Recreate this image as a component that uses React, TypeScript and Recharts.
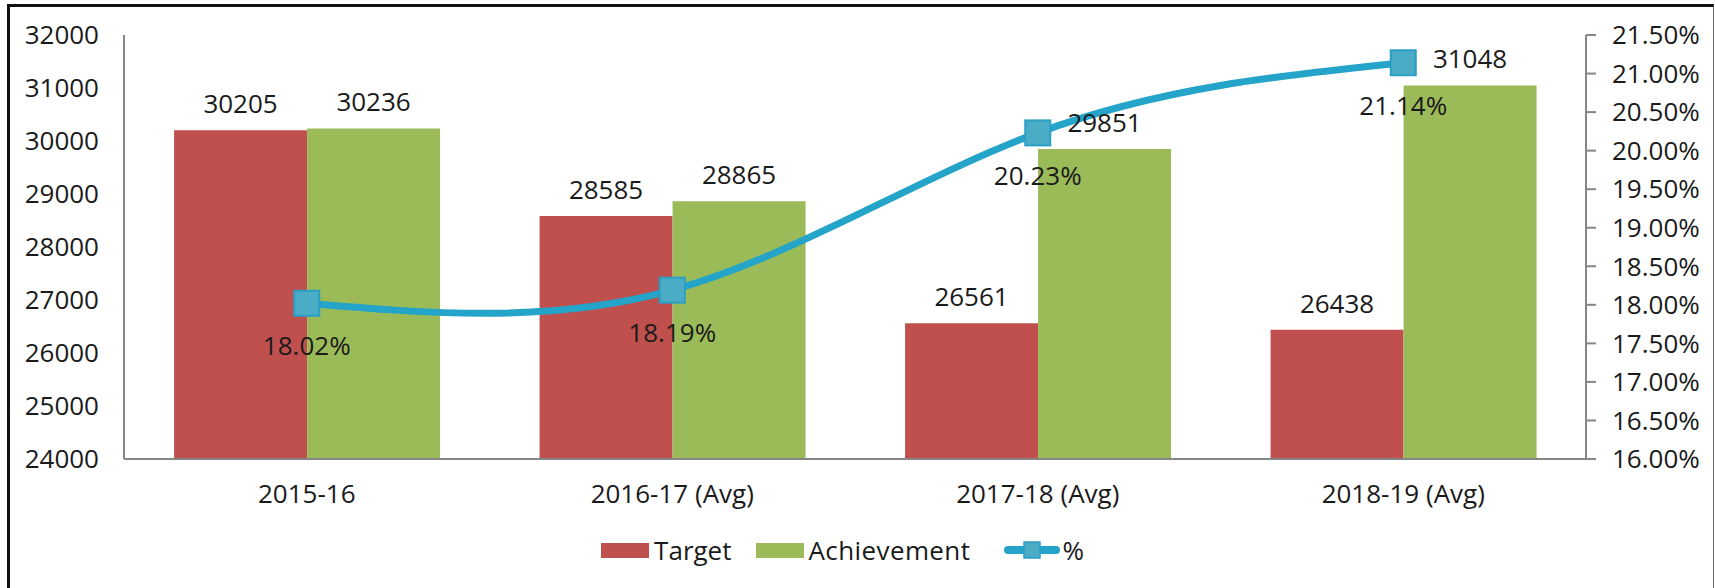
import React from 'react'
import {
  ComposedChart, Bar, Line, XAxis, YAxis, Legend, LabelList,
} from 'recharts'

const categories = ['2015-16', '2016-17 (Avg)', '2017-18 (Avg)', '2018-19 (Avg)']
const target = [30205, 28585, 26561, 26438]
const achievement = [30236, 28865, 29851, 31048]
const percent = [18.02, 18.19, 20.23, 21.14]

const leftTicks = [24000, 25000, 26000, 27000, 28000, 29000, 30000, 31000, 32000]
const rightTicks = [16, 16.5, 17, 17.5, 18, 18.5, 19, 19.5, 20, 20.5, 21, 21.5]

const FONT = '"Open Sans", "Liberation Sans", sans-serif'
const TEXT = '#1a1a1a'
const AXIS = '#868686'
const RED = '#C0504D'
const GREEN = '#9BBB59'
const LINE = '#24A4C8'
const MARKER = '#4BACC6'

const data = categories.map((name, i) => ({
  name,
  target: target[i],
  achievement: achievement[i],
  pct: percent[i],
}))

// square marker like the Excel original
const SquareDot = (props: any) => {
  const { cx, cy, index } = props
  if (cx == null || cy == null) return <g key={index} />
  return (
    <rect
      key={index}
      x={cx - 12.5}
      y={cy - 12.5}
      width={25}
      height={25}
      fill={MARKER}
      stroke="#2A9FC5"
      strokeWidth={2}
    />
  )
}

const PctLabel = (props: any) => {
  const { x, y, value } = props
  return (
    <text x={x} y={y + 52} textAnchor="middle" fontSize={26} fontFamily={FONT} fill={TEXT}>
      {`${Number(value).toFixed(2)}%`}
    </text>
  )
}

const LegendContent = () => (
  <div
    style={{
      display: 'flex', justifyContent: 'center', alignItems: 'center',
      height: 40, paddingRight: 30, fontSize: 26, fontFamily: FONT, color: TEXT,
    }}
  >
    <span style={{ width: 48, height: 15, background: RED, display: 'inline-block' }} />
    <span style={{ marginLeft: 5 }}>Target</span>
    <span style={{ width: 48, height: 15, background: GREEN, display: 'inline-block', marginLeft: 24 }} />
    <span style={{ marginLeft: 5, letterSpacing: 0.4 }}>Achievement</span>
    <svg width={56} height={20} style={{ marginLeft: 34 }}>
      <line x1={4} y1={10} x2={52} y2={10} stroke={LINE} strokeWidth={8} strokeLinecap="round" />
      <rect x={20} y={2} width={16} height={16} fill={MARKER} stroke="#2A9FC5" strokeWidth={1.5} />
    </svg>
    <span style={{ marginLeft: 2 }}>%</span>
  </div>
)

export default function App() {
  return (
    <div style={{ position: 'absolute', left: 0, top: 0, width: 1715, height: 588, overflow: 'hidden', background: '#fff' }}>
      <div
        style={{
          position: 'absolute', left: 7, top: 4, width: 1703, height: 620,
          borderTop: '3px solid #111', borderLeft: '3px solid #111', borderRight: '1px solid #666',
        }}
      />
      <ComposedChart
        width={1715}
        height={588}
        data={data}
        margin={{ top: 35, right: 0, bottom: 18, left: 0 }}
        barCategoryGap="13.7%"
        barGap={0}
        style={{ position: 'absolute', left: 0, top: 0 }}
      >
        <XAxis
          dataKey="name"
          height={71}
          axisLine={{ stroke: AXIS, strokeWidth: 2 }}
          tickLine={false}
          tickSize={0}
          tickMargin={26}
          tick={{ fontSize: 26, fontFamily: FONT, fill: TEXT }}
        />
        <YAxis
          yAxisId="left"
          width={124}
          domain={[24000, 32000]}
          ticks={leftTicks}
          interval={0}
          axisLine={{ stroke: AXIS, strokeWidth: 2 }}
          tickLine={false}
          tickSize={0}
          tickMargin={25}
          tick={{ fontSize: 26, fontFamily: FONT, fill: TEXT }}
        />
        <YAxis
          yAxisId="right"
          orientation="right"
          width={129}
          domain={[16, 21.5]}
          ticks={rightTicks}
          interval={0}
          tickFormatter={(v) => `${Number(v).toFixed(2)}%`}
          axisLine={{ stroke: AXIS, strokeWidth: 2 }}
          tickLine={{ stroke: AXIS, strokeWidth: 2 }}
          tickSize={10}
          tickMargin={16}
          tick={{ fontSize: 26, fontFamily: FONT, fill: TEXT }}
        />
        <Legend verticalAlign="bottom" content={<LegendContent />} />
        <Bar yAxisId="left" dataKey="target" name="Target" fill={RED} isAnimationActive={false}>
          <LabelList dataKey="target" position="top" offset={17} fontSize={26} fontFamily={FONT} fill={TEXT} />
        </Bar>
        <Bar yAxisId="left" dataKey="achievement" name="Achievement" fill={GREEN} isAnimationActive={false}>
          <LabelList dataKey="achievement" position="top" offset={17} fontSize={26} fontFamily={FONT} fill={TEXT} />
        </Bar>
        <Line
          yAxisId="right"
          dataKey="pct"
          name="%"
          type="natural"
          stroke={LINE}
          strokeWidth={7}
          dot={SquareDot}
          activeDot={false}
          isAnimationActive={false}
        >
          <LabelList dataKey="pct" content={PctLabel} />
        </Line>
      </ComposedChart>
    </div>
  )
}
